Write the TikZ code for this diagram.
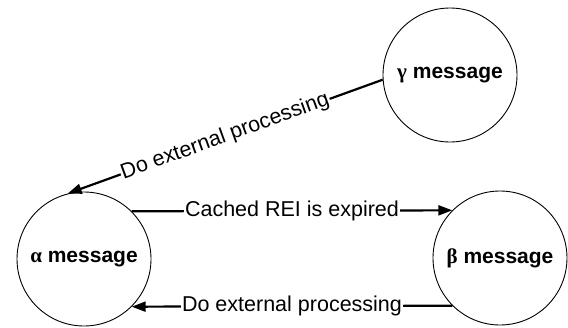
\documentclass[tikz,border=0pt]{standalone}
\usepackage{fontspec}
\setmainfont{Liberation Sans}
\newfontfamily\grk{Liberation Serif}
\usetikzlibrary{arrows.meta}
\tikzset{
  state/.style={circle, draw, line width=0.9pt, minimum size=134pt, inner sep=0pt,
    font=\fontsize{21}{25}\selectfont\bfseries},
  link/.style={line width=2.2pt, -{Triangle[length=14pt,width=10pt]}},
  tag/.style={fill=white, inner sep=1pt, font=\fontsize{21.5}{25}\selectfont}
}
\begin{document}
\begin{tikzpicture}[x=1pt,y=-1pt]
  \useasboundingbox (0,0) rectangle (568,327);
  % the three message states
  \node[state] (a) at (84,259) {{\grk α} message};
  \node[state] (b) at (500,258) {{\grk β} message};
  \node[state] (g) at (450,75) {{\grk γ} message};
  % transitions
  \draw[link] (a.45) -- node[tag] {Cached REI is expired} (b.135);
  \draw[link] (b.225) -- node[tag] {Do external processing} (a.-45);
  \draw[link] (g.184) -- node[tag, sloped] {Do external processing} (a.104);
\end{tikzpicture}
\end{document}
